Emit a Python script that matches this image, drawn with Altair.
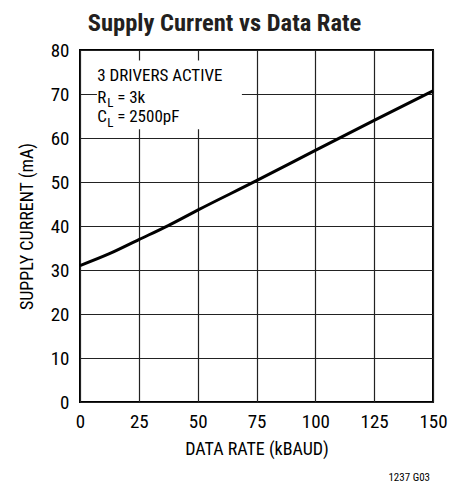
import altair as alt
import pandas as pd

# Data
data_rate = [0, 12.5, 25, 37.5, 50, 75, 100, 125, 150]
supply_current = [31.0, 33.7, 36.9, 40.1, 43.6, 50.3, 57.2, 64.0, 70.7]

x_ticks = [0, 25, 50, 75, 100, 125, 150]
y_ticks = [0, 10, 20, 30, 40, 50, 60, 70, 80]

FONT = "Roboto Condensed, Liberation Sans Narrow, Roboto, sans-serif"

df = pd.DataFrame({"rate": data_rate, "current": supply_current})

xs = alt.Scale(domain=[0, 150], nice=False, zero=False)
ys = alt.Scale(domain=[0, 80], nice=False, zero=False)

line = alt.Chart(df).mark_line(color="black", strokeWidth=3, interpolate="monotone").encode(
    x=alt.X("rate:Q", scale=xs,
            axis=alt.Axis(values=x_ticks, title="DATA RATE (kBAUD)", grid=True, labelFlush=False,
                          ticks=False, domain=False, labelPadding=10, titlePadding=9)),
    y=alt.Y("current:Q", scale=ys,
            axis=alt.Axis(values=y_ticks, title="SUPPLY CURRENT (mA)", grid=True, labelFlush=False,
                          ticks=False, domain=False, labelPadding=11, titlePadding=14)),
)

# White box behind annotation
box_df = pd.DataFrame({"x": [7.2], "x2": [68.8], "y": [77.6], "y2": [62.0]})
box = alt.Chart(box_df).mark_rect(color="white").encode(
    x=alt.X("x:Q", scale=xs), x2="x2:Q", y=alt.Y("y:Q", scale=ys), y2="y2:Q"
)

ann_df = pd.DataFrame({
    "x": [7.3, 7.3, 7.3],
    "y": [74.2, 69.2, 64.8],
    "t": ["3 DRIVERS ACTIVE", "R", "C"],
})
ann = alt.Chart(ann_df).mark_text(align="left", baseline="middle", fontSize=17, font=FONT, color="black").encode(
    x=alt.X("x:Q", scale=xs), y=alt.Y("y:Q", scale=ys), text="t:N"
)
sub_df = pd.DataFrame({"x": [11.6, 11.6], "y": [67.9, 63.5], "t": ["L", "L"]})
sub = alt.Chart(sub_df).mark_text(align="left", baseline="middle", fontSize=13, font=FONT, color="black").encode(
    x=alt.X("x:Q", scale=xs), y=alt.Y("y:Q", scale=ys), text="t:N"
)
rest_df = pd.DataFrame({"x": [15.8, 15.8], "y": [69.2, 64.8], "t": ["= 3k", "= 2500pF"]})
rest = alt.Chart(rest_df).mark_text(align="left", baseline="middle", fontSize=17, font=FONT, color="black").encode(
    x=alt.X("x:Q", scale=xs), y=alt.Y("y:Q", scale=ys), text="t:N"
)

code_df = pd.DataFrame({"x": [150], "y": [0], "t": ["1237 G03"]})
code = alt.Chart(code_df).mark_text(align="right", baseline="middle", fontSize=11, font=FONT, color="black",
                                   dy=76, dx=-3).encode(
    x=alt.X("x:Q", scale=xs), y=alt.Y("y:Q", scale=ys), text="t:N"
)

title_df = pd.DataFrame({"x": [75], "y": [80], "t": ["Supply Current vs Data Rate"]})
title = alt.Chart(title_df).mark_text(align="center", baseline="alphabetic", fontSize=24.5, fontWeight="bold",
                                      font=FONT, color="#231f20", dy=-19, dx=-32).encode(
    x=alt.X("x:Q", scale=xs), y=alt.Y("y:Q", scale=ys), text="t:N"
)

chart = alt.layer(box, line, ann, sub, rest, code, title).properties(
    width=353, height=352,
    autosize=alt.AutoSizeParams(type="none"),
    padding={"left": 72, "top": 42, "right": 21, "bottom": 85},
).configure_axis(
    gridColor="#222222", gridWidth=1.2, gridOpacity=1,
    labelFont=FONT, labelFontSize=19, labelColor="black",
    titleFont=FONT, titleFontSize=18, titleFontWeight="normal", titleColor="black",
).configure_view(
    stroke="black", strokeWidth=2
)

chart.save("out.html", embed_options={"renderer": "svg", "actions": False})
